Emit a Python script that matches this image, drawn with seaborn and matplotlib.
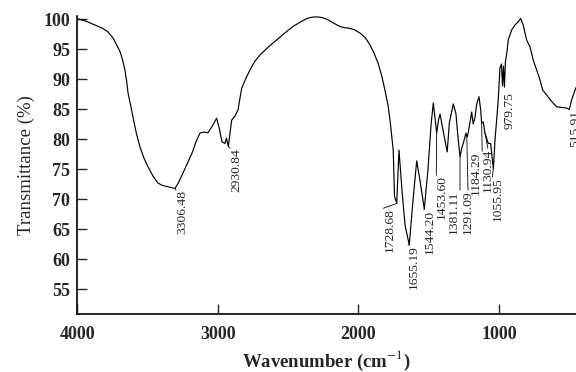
import matplotlib
matplotlib.use("Agg")
import matplotlib.pyplot as plt
import seaborn as sns
import pandas as pd

# ---- data ----
wavenumber = [4000, 3940, 3874, 3820, 3782, 3750, 3732, 3696, 3680, 3661, 3650, 3639,
              3620, 3604, 3580, 3554, 3525, 3497, 3460, 3426, 3400, 3376, 3340, 3305,
              3280, 3248, 3215, 3184, 3155, 3127, 3100, 3070, 3040, 3009, 2990, 2971,
              2950, 2939, 2926, 2902, 2878, 2857, 2831, 2800, 2772, 2740, 2701, 2640,
              2580, 2520, 2466, 2410, 2366, 2330, 2295, 2260, 2224, 2180, 2132, 2100,
              2061, 2025, 1989, 1950, 1918, 1890, 1861, 1835, 1812, 1790, 1776, 1765,
              1753, 1744, 1728, 1712, 1691, 1669, 1639, 1612, 1586, 1563, 1532, 1506,
              1484, 1468, 1456, 1444, 1431, 1420, 1397, 1369, 1354, 1326, 1307, 1295,
              1278, 1266, 1255, 1236, 1226, 1212, 1195, 1184, 1172, 1159, 1143, 1131,
              1124, 1113, 1100, 1077, 1060, 1041, 1029, 1006, 994, 983, 976, 969, 962,
              955, 944, 935, 911, 887, 864, 847, 828, 816, 804, 780, 757, 733, 709, 690,
              662, 626, 590, 555, 519, 501, 484, 460, 445]
transmittance = [100.1, 99.7, 99.05, 98.5, 97.9, 97.0, 96.3, 94.6, 93.4, 91.55, 89.8, 87.7,
                 85.6, 83.7, 81.0, 78.7, 76.8, 75.4, 73.8, 72.7, 72.35, 72.2, 72.0, 71.8,
                 72.8, 74.4, 76.1, 77.7, 79.6, 81.05, 81.2, 81.1, 82.2, 83.5, 81.8, 79.6,
                 79.3, 80.2, 78.8, 83.2, 83.9, 84.9, 88.5, 90.2, 91.55, 92.9, 94.05, 95.4,
                 96.6, 97.8, 98.8, 99.6, 100.15, 100.35, 100.4, 100.3, 100.0, 99.4, 98.8, 98.6,
                 98.5, 98.2, 97.7, 96.9, 95.7, 94.4, 92.7, 90.6, 88.2, 85.7, 83.2, 80.8,
                 78.2, 70.55, 69.3, 78.2, 71.6, 65.7, 62.4, 69.9, 76.4, 73.2, 68.4, 74.9,
                 82.4, 86.05, 83.55, 81.05, 83.2, 84.2, 81.3, 77.9, 82.7, 85.9, 84.3, 81.0,
                 77.1, 78.5, 79.3, 81.0, 80.4, 82.1, 84.55, 82.55, 83.6, 85.9, 87.1, 84.9,
                 82.7, 82.9, 81.0, 79.3, 79.3, 75.05, 79.9, 86.55, 91.9, 92.55, 88.9, 92.2, 88.7,
                 92.9, 94.55, 96.55, 98.2, 99.05, 99.6, 100.15, 99.05, 97.7, 96.55, 95.4, 93.2,
                 91.55, 89.9, 88.2, 87.4, 86.3, 85.4, 85.3, 85.2, 85.0, 86.55, 88.2, 89.0]

# peak labels: text, label position (w, T of label top), marked point (w, T)
peak_text = ["3306.48", "2930.84", "1728.68", "1655.19", "1544.20", "1453.60",
             "1381.11", "1291.09", "1184.29", "1130.94", "1055.95", "979.75", "515.91"]
label_w = [3255, 2871, 1780, 1605, 1492, 1404, 1321, 1221, 1163, 1080, 1006, 922, 460]
label_T = [71.5, 78.5, 68.5, 62.4, 68.2, 74.0, 71.5, 71.5, 78.0, 78.5, 73.7, 87.9, 84.9]
point_w = [3305, 2926, 1728, 1639, 1532, 1444, 1278, 1230, 1124, 1100, 1041, 922, 501]
point_T = [71.8, 78.8, 69.3, 62.4, 68.4, 81.05, 77.1, 80.6, 82.7, 81.0, 75.05, 87.9, 85.0]

x_ticks = [4000, 3000, 2000, 1000]
y_ticks = [55, 60, 65, 70, 75, 80, 85, 90, 95, 100]

# leader-line anchor on each label (fraction across the rotated text box)
leader_rel = [0.0, 0.0, 0.0, 0.0, 0.0, 0.0, 1.0, 0.5, 1.0, 0.5, 0.0, None, 0.0]

sns.set_style("ticks")
plt.rcParams['font.family'] = ['Liberation Serif', 'DejaVu Serif']
plt.rcParams['mathtext.fontset'] = 'stix'

fig = plt.figure(figsize=(5.76, 3.72), dpi=100)
ax = fig.add_axes([0.1342, 0.156, 0.8658, 0.801])

df = pd.DataFrame({"w": wavenumber, "T": transmittance})
sns.lineplot(data=df, x="w", y="T", sort=False, estimator=None, color="black",
             linewidth=0.85, ax=ax)

for txt, lw_, lt, pw, pt, rel in zip(peak_text, label_w, label_T, point_w, point_T, leader_rel):
    ap = None
    if rel is not None:
        ap = dict(arrowstyle="-", lw=0.6, color="black", shrinkA=0, shrinkB=0,
                  relpos=(rel, 1.0), patchA=None)
    ax.annotate(txt, xy=(pw, pt), xytext=(lw_, lt), textcoords="data",
                rotation=90, ha="center", va="top", fontsize=9.7,
                arrowprops=ap, annotation_clip=False, clip_on=False)

ax.set_xlim(4000, 453)
ax.set_ylim(50.88, 100.55)
ax.set_xticks(x_ticks)
ax.set_yticks(y_ticks)
ax.set_xticklabels([str(v) for v in x_ticks], fontsize=13, fontweight="bold")
ax.set_yticklabels([str(v) for v in y_ticks], fontsize=13, fontweight="bold")
ax.tick_params(axis="x", direction="in", length=7, width=1, pad=9)
ax.tick_params(axis="y", direction="in", length=7.5, width=1, pad=5)
sns.despine(ax=ax)
for s in ["left", "bottom"]:
    ax.spines[s].set_linewidth(1.2)
    ax.spines[s].set_color("black")

ax.set_xlabel("Wavenumber (cm$^{-1}$)", fontsize=13.5, fontweight="bold", labelpad=4)
ax.set_ylabel("Transmittance (%)", fontsize=13.5, labelpad=6)

fig.savefig("out.png", dpi=100)
